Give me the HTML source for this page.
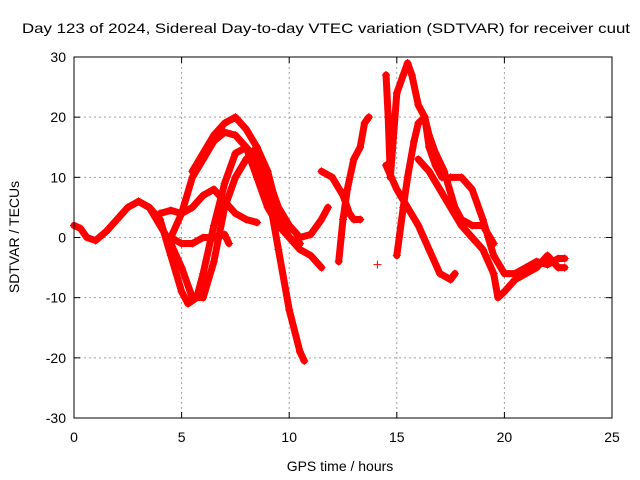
<!DOCTYPE html>
<html><head><meta charset="utf-8"><style>
body{margin:0;background:#fff;}
svg{display:block;font-family:"Liberation Sans",sans-serif;}
</style></head><body>
<svg id="chart" width="640" height="480">
<rect width="640" height="480" fill="#fff"/>
<text x="22" y="33" font-size="14" textLength="608" lengthAdjust="spacingAndGlyphs">Day 123 of 2024, Sidereal Day-to-day VTEC variation (SDTVAR) for receiver cuut</text>
<g id="grid"></g>
<g id="series"></g>
<rect x="74" y="57" width="538" height="361" fill="none" stroke="#000" stroke-width="1"/>
<g id="ticks"></g>
<text x="340" y="471" font-size="14" text-anchor="middle">GPS time / hours</text>
<text x="19" y="237" font-size="14" text-anchor="middle" transform="rotate(-90 19 237)">SDTVAR / TECUs</text>
</svg>
<script>
const xTicks=[0,5,10,15,20,25];
const yTicks=[-30,-20,-10,0,10,20,30];
const t1x=[0,0.3,0.6,1,1.5,2,2.5,3,3.5,4,4.5,5,5.3,5.7,6,6.5,7,7.5,8,8.5,9,9.5,10,10.5,10.7];
const t1y=[2,1.5,0,-0.5,1,3,5,6,5,3,-3,-9,-11,-10,-6,2,9,14,15,13,8,-2,-12,-19,-20.5];
const t2x=[3,3.5,4,4.5,5,5.5,6,6.5,7,7.5,8,8.5,9,9.5,10,10.5];
const t2y=[6,5,2,-1,-5,-10,-10,-4,5,10,13,15,11,4,0,-1];
const t3x=[4.5,5,5.5,6,6.5,7,7.5,8,8.5,9,9.5,10,10.5,11,11.5];
const t3y=[0,4,10,13,16,17.5,17,15,10,5,2,0,-2,-3,-5];
const t4x=[5.5,6,6.5,7,7.5,8,8.5,9,9.5,10,10.5,11,11.5,11.8];
const t4y=[11,14,17,19,20,18,15,10,5,2,0,0.5,3,5];
const t5x=[4,4.5,5,5.5,6,6.5,7,7.5,8,8.5];
const t5y=[4,4.5,4,5,7,8,6,4,3,2.5];
const t6x=[4.5,5,5.5,6,6.5,7,7.2];
const t6y=[0,-1,-1,0,0,0.5,-1];
const t7x=[12.3,12.5,12.7,13,13.3,13.5,13.7];
const t7y=[-4,3,8,13,15,19,20];
const t8x=[11.5,12,12.5,12.8,13,13.3];
const t8y=[11,10,7,4,3,3];
const t9x=[14.5,14.6,14.7,15,15.3,15.5,15.7,16,16.3,16.5,16.8,17.1];
const t9y=[27,20,10,24,27,29,27,22,20,15,12,10];
const t10x=[15,15.3,15.5,15.8,16,16.3,16.5,16.8,17.2];
const t10y=[-3,5,10,16,19,20,17,14,11];
const t11x=[14.5,15,15.5,16,16.5,17,17.5,17.7];
const t11y=[12,8,5,2,-2,-6,-7,-6];
const t12x=[16,16.5,17,17.5,18,18.5,19,19.5,19.7,20,20.5,21,21.5,22,22.5,22.8];
const t12y=[13,11,8,5,2,0,-2,-6,-10,-9,-7,-6,-5,-3,-5,-5];
const t13x=[17.5,18,18.5,19,19.5,20,20.5,21,21.5,22,22.5,22.8];
const t13y=[10,10,8,3,-3,-6,-6,-5,-4,-4.5,-3.5,-3.5];
const t14x=[16.8,17.2,17.7,18,18.5,19,19.5];
const t14y=[14,11,5,3,2,2,-1];
const tracksX=[t1x,t2x,t3x,t4x,t5x,t6x,t7x,t8x,t9x,t10x,t11x,t12x,t13x,t14x];
const tracksY=[t1y,t2y,t3y,t4y,t5y,t6y,t7y,t8y,t9y,t10y,t11y,t12y,t13y,t14y];
const isoX=[14.1];
const isoY=[-4.5];

const NS='http://www.w3.org/2000/svg';
const X=v=>74+v*(538/25);
const Y=v=>237.5-v*(361/60);
function mk(tag,at,parent){const e=document.createElementNS(NS,tag);for(const k in at)e.setAttribute(k,at[k]);parent.appendChild(e);return e;}
const grid=document.getElementById('grid'),ticks=document.getElementById('ticks'),ser=document.getElementById('series');
xTicks.forEach(t=>{
  if(t>0&&t<25){const g=mk('line',{x1:X(t),x2:X(t),y1:57,y2:418,stroke:'#a0a0a0','stroke-dasharray':'2,3'},grid);
  
  }
  mk('line',{x1:X(t),x2:X(t),y1:418,y2:412,stroke:'#000'},ticks);
  mk('line',{x1:X(t),x2:X(t),y1:57,y2:63,stroke:'#000'},ticks);
  const l=mk('text',{x:X(t),y:442,'font-size':14,'text-anchor':'middle'},ticks);l.textContent=t;
  
  
});
yTicks.forEach(t=>{
  if(t>-30&&t<30){const g=mk('line',{x1:74,x2:612,y1:Y(t),y2:Y(t),stroke:'#a0a0a0','stroke-dasharray':'2,3'},grid);
  
  }
  mk('line',{x1:74,x2:80,y1:Y(t),y2:Y(t),stroke:'#000'},ticks);
  mk('line',{x1:612,x2:606,y1:Y(t),y2:Y(t),stroke:'#000'},ticks);
  const l=mk('text',{x:66,y:Y(t)+5,'font-size':14,'text-anchor':'end'},ticks);l.textContent=t;
  
  
});
function plus(x,y){mk('path',{d:`M${x-4},${y}h8M${x},${y-4}v8`,stroke:'#f00','stroke-width':1},ser);}
tracksX.forEach((xs,i)=>{
  const ys=tracksY[i];
  const p=mk('polyline',{points:xs.map((x,j)=>X(x)+','+Y(ys[j])).join(' '),fill:'none',stroke:'#f00','stroke-width':7,'stroke-linejoin':'round','stroke-linecap':'round'},ser);
  
  
  xs.forEach((x,j)=>plus(X(x),Y(ys[j])));
});
isoX.forEach((x,i)=>plus(X(x),Y(isoY[i])));
</script>
</body></html>
